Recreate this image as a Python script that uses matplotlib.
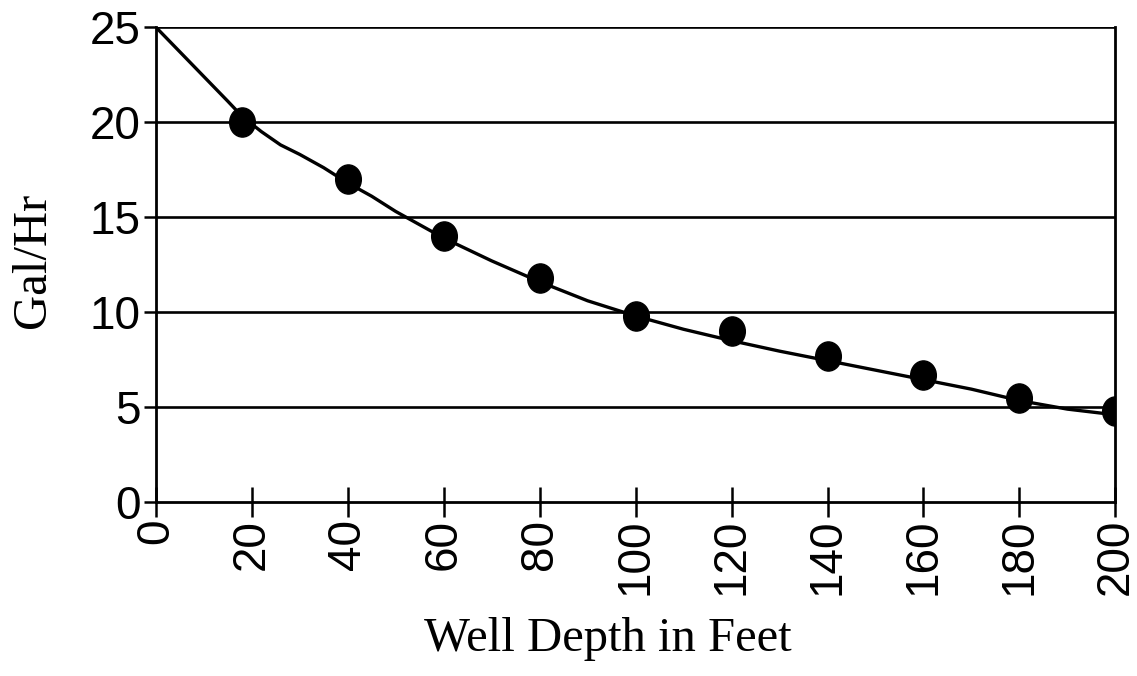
import matplotlib
matplotlib.use("Agg")
import matplotlib.pyplot as plt
from matplotlib.path import Path
from matplotlib.transforms import Affine2D

# Data points (measured)
depth = [18, 40, 60, 80, 100, 120, 140, 160, 180, 200]
flow = [20.0, 17.0, 14.0, 11.8, 9.8, 9.0, 7.7, 6.7, 5.5, 4.8]

# Fitted curve
curve_x = [0, 5, 10, 15, 18, 22, 26, 30, 35, 40, 45, 50, 55, 60, 70, 80, 90, 100,
           110, 120, 130, 140, 150, 160, 170, 180, 190, 200]
curve_y = [25.0, 23.7, 22.4, 21.1, 20.3, 19.5, 18.8, 18.3, 17.6, 16.8, 16.1, 15.3,
           14.6, 13.9, 12.7, 11.6, 10.6, 9.8, 9.1, 8.5, 7.95, 7.45, 6.95, 6.45,
           5.95, 5.35, 4.9, 4.6]

x_ticks = [0, 20, 40, 60, 80, 100, 120, 140, 160, 180, 200]
y_ticks = [0, 5, 10, 15, 20, 25]

fig = plt.figure(figsize=(11.37, 6.76), dpi=100)
ax = fig.add_axes([0.137, 0.257, 0.844, 0.703])

for yv in y_ticks[1:]:
    ax.axhline(yv, color="black", lw=1.9, zorder=1)

ellipse = Path.unit_circle().transformed(Affine2D().scale(0.88, 1.0))
ax.plot(curve_x, curve_y, color="black", lw=2.4, zorder=2)
ax.plot(depth, flow, linestyle="none", marker=ellipse, color="black",
        markersize=21, zorder=3)

ax.set_xlim(0, 200)
ax.set_ylim(0, 25)
ax.set_xticks(x_ticks)
ax.set_yticks(y_ticks)
ax.set_xticklabels([str(v) for v in x_ticks], rotation=90, fontsize=33,
                   family="Liberation Sans")
ax.set_yticklabels([str(v) for v in y_ticks], fontsize=33, family="Liberation Sans")

ax.tick_params(axis="x", direction="inout", length=22, width=1.8, pad=1)
ax.tick_params(axis="y", direction="out", length=9, width=1.8, pad=2)

for s in ["left", "bottom", "right"]:
    ax.spines[s].set_linewidth(2.0)
    ax.spines[s].set_color("black")
ax.spines["top"].set_visible(False)

ax.set_xlabel("Well Depth in Feet", fontsize=35, family="Liberation Serif")
ax.set_ylabel("Gal/Hr", fontsize=35, family="Liberation Serif")
ax.xaxis.set_label_coords(0.471, -0.288)
ax.yaxis.set_label_coords(-0.128, 0.51)
ax.xaxis.label.set_va("center")
ax.yaxis.label.set_va("center")

fig.savefig("out.png", dpi=100)
